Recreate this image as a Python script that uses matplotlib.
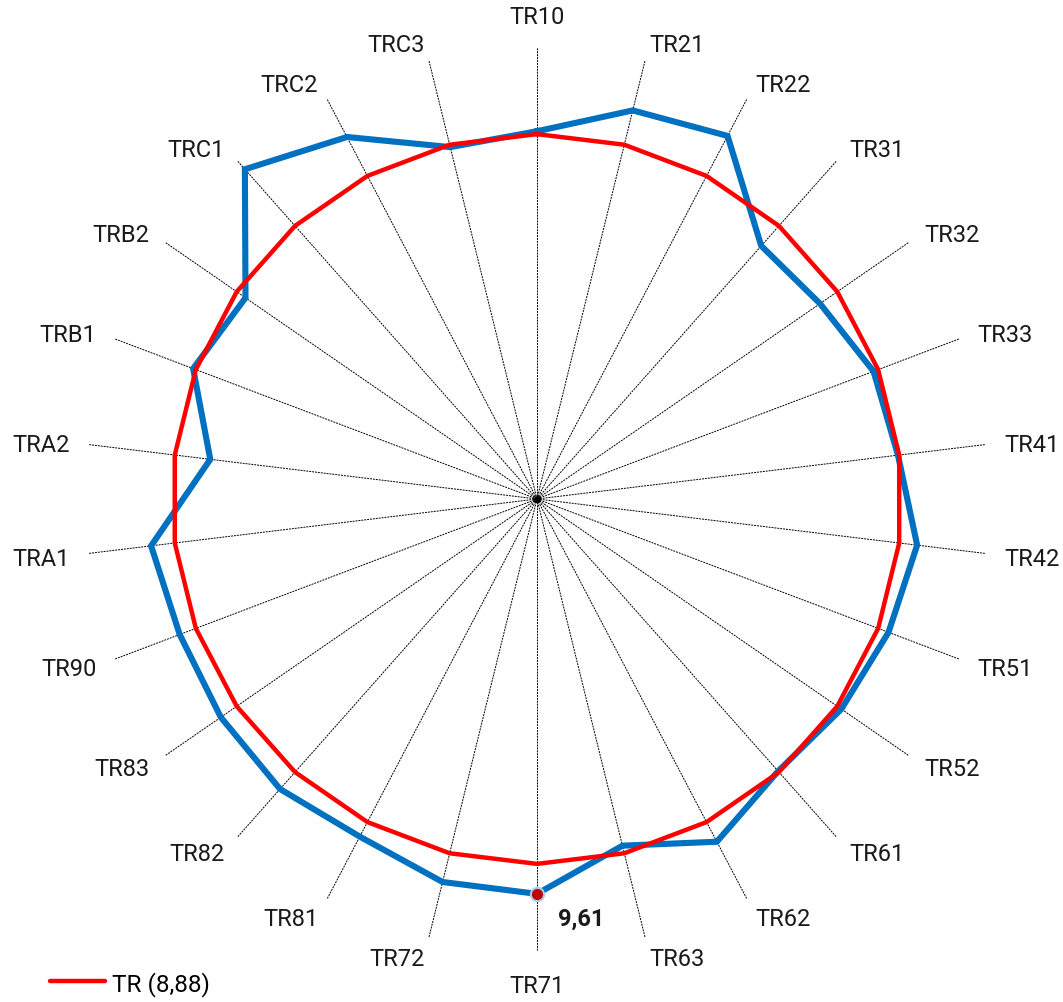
import matplotlib.pyplot as plt
import numpy as np
from matplotlib.lines import Line2D

plt.rcParams['font.family'] = ['Roboto', 'DejaVu Sans']

categories = ['TR10', 'TR21', 'TR22', 'TR31', 'TR32', 'TR33', 'TR41', 'TR42',
              'TR51', 'TR52', 'TR61', 'TR62', 'TR63', 'TR71', 'TR72', 'TR81',
              'TR82', 'TR83', 'TR90', 'TRA1', 'TRA2', 'TRB1', 'TRB2', 'TRC1',
              'TRC2', 'TRC3']
tr_values = [8.95, 9.74, 9.98, 8.23, 8.37, 8.76, 8.85, 9.32, 9.15, 9.00,
             8.85, 9.42, 8.69, 9.61, 9.60, 9.28, 9.43, 9.35, 9.30, 9.46,
             8.01, 8.95, 8.62, 10.72, 9.95, 8.82]
avg_value = 8.88
avg_label = 'TR (8,88)'
highlight = 'TR71'
highlight_text = '9,61'

n = len(categories)
theta = np.linspace(0, 2 * np.pi, n, endpoint=False)
theta_c = np.append(theta, theta[0])
blue = np.append(tr_values, tr_values[0])
red = np.full(n + 1, avg_value)

fig = plt.figure(figsize=(10.63, 10.03), dpi=100)
ax = fig.add_axes([0.07996, 0.05085, 0.8504, 0.9013], projection='polar')
ax.set_theta_zero_location('N')
ax.set_theta_direction(-1)
ax.set_ylim(0, 11)
ax.spines['polar'].set_visible(False)
ax.set_yticks([])
ax.set_xticks(theta)
ax.set_xticklabels([])
ax.tick_params(axis='x', length=0)
ax.xaxis.grid(True, color='black', lw=0.7, ls=(0, (2, 1)))
ax.yaxis.grid(False)

ax.plot(theta_c, blue, color='#0070C0', lw=4.4, solid_joinstyle='miter', zorder=3)
ax.plot(theta_c, red, color='#FF0000', lw=3.2, solid_joinstyle='miter', zorder=4)
ax.plot([0], [0], 'o', color='black', ms=4, zorder=5)

# category labels round the outside
for i, (t, lab) in enumerate(zip(theta, categories)):
    s = np.sin(t)
    if abs(s) < 1e-6:
        ha = 'center'
        va = 'bottom' if np.cos(t) > 0 else 'top'
        r = 11.46 if np.cos(t) > 0 else 11.55
    else:
        ha = 'left' if s > 0 else 'right'
        va = 'center_baseline'
        r = 11.46
    ax.text(t, r, lab, ha=ha, va=va, fontsize=17, color='#1a1a1a')

k = categories.index(highlight)
ax.plot([theta[k]], [tr_values[k]], 'o', ms=9.5, mfc='#C00000', mec='#A9CDE8',
        mew=1.5, zorder=6)
ax.annotate(highlight_text, (theta[k], tr_values[k]), xytext=(32, -16),
            textcoords='offset points', ha='center', va='center_baseline',
            fontsize=17, fontweight='bold', color='#1a1a1a')

h = Line2D([], [], color='#FF0000', lw=3.2, solid_capstyle='round')
fig.legend(handles=[h], labels=[avg_label], loc='center left',
           bbox_to_anchor=(0.047, 0.0189), frameon=False, fontsize=17.5,
           handlelength=2.25, handletextpad=0.3, borderaxespad=0, borderpad=0)

fig.savefig('out.png', dpi=100)
